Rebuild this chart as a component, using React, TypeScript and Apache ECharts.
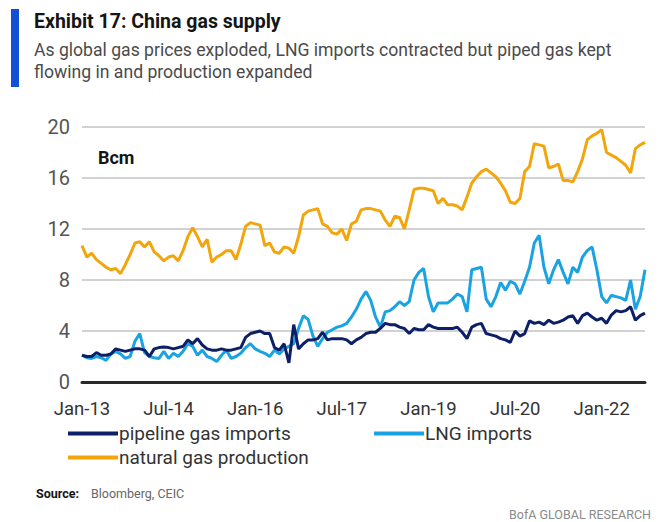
import React, { useEffect, useRef } from "react";
import * as echarts from "echarts";

const MONTH_NAMES = ["Jan", "Feb", "Mar", "Apr", "May", "Jun", "Jul", "Aug", "Sep", "Oct", "Nov", "Dec"];

const pipelineImports = [
  2.1, 2.0, 2.0, 2.3, 2.1, 2.1, 2.2, 2.6, 2.5, 2.4, 2.5, 2.6,
  2.6, 2.5, 2.0, 2.6, 2.7, 2.75, 2.7, 2.6, 2.7, 2.8, 3.3, 3.0,
  3.4, 2.9, 2.6, 2.5, 2.5, 2.6, 2.5, 2.5, 2.6, 2.7, 3.5, 3.8,
  3.9, 4.0, 3.8, 3.8, 2.7, 2.5, 3.0, 1.5, 4.5, 2.6, 3.0, 3.3,
  3.3, 3.4, 3.9, 3.3, 3.4, 3.4, 3.4, 3.3, 3.0, 3.3, 3.5, 3.8,
  3.9, 3.9, 4.2, 4.6, 4.5, 4.5, 4.3, 4.2, 3.8, 4.2, 4.1, 4.1,
  4.5, 4.3, 4.2, 4.2, 4.2, 4.2, 4.3, 3.9, 3.4, 4.3, 4.5, 4.6,
  3.8, 3.7, 3.6, 3.4, 3.3, 3.1, 4.0, 3.6, 3.8, 4.8, 4.6, 4.7,
  4.5, 4.85, 4.6, 4.7, 4.85, 5.1, 5.2, 4.6, 5.2, 5.4, 5.1, 4.85,
  5.0, 4.6, 5.25, 5.6, 5.5, 5.6, 5.9, 4.85, 5.2, 5.4,
];

const lngImports = [
  2.1, 1.9, 1.85, 2.0, 1.9, 1.7, 2.2, 2.4, 2.2, 1.85, 2.0, 3.2,
  3.8, 2.3, 2.0, 1.9, 1.85, 2.4, 1.85, 2.25, 2.0, 2.4, 3.0, 2.8,
  2.1, 2.5, 2.0, 1.85, 1.6, 2.1, 2.5, 1.85, 2.0, 2.25, 2.7, 3.0,
  2.6, 2.4, 2.25, 2.0, 2.5, 2.2, 2.6, 2.8, 3.0, 4.2, 5.2, 4.9,
  3.6, 2.8, 3.4, 3.9, 4.1, 4.3, 4.4, 4.6, 5.1, 5.7, 6.5, 7.1,
  6.4, 5.1, 4.3, 5.5, 5.6, 5.9, 6.3, 6.0, 6.3, 8.0, 8.6, 8.9,
  6.7, 5.5, 6.2, 6.2, 6.2, 6.5, 6.9, 6.7, 5.5, 8.8, 8.9, 9.0,
  6.5, 5.9, 6.7, 7.8, 7.2, 7.9, 7.7, 6.9, 7.9, 9.0, 10.9, 11.5,
  9.0, 7.7, 8.8, 9.6, 8.6, 7.7, 9.0, 8.6, 9.8, 10.3, 10.6, 8.8,
  6.7, 6.2, 6.8, 6.7, 6.6, 6.4, 8.0, 5.7, 6.7, 8.8,
];

const gasProduction = [
  10.7, 9.8, 10.1, 9.6, 9.3, 9.0, 8.8, 8.9, 8.5, 9.2, 10.0, 10.9,
  11.0, 10.6, 11.0, 10.2, 9.9, 9.5, 9.8, 9.9, 9.5, 10.3, 11.4, 12.1,
  11.4, 10.6, 11.2, 9.4, 9.8, 10.0, 10.3, 10.3, 9.6, 10.8, 12.2, 12.5,
  12.4, 12.3, 10.7, 10.9, 10.2, 10.1, 10.6, 10.5, 10.1, 11.4, 13.1, 13.4,
  13.5, 13.6, 12.4, 12.2, 11.7, 11.6, 12.0, 11.1, 12.4, 12.6, 13.5, 13.6,
  13.6, 13.5, 13.4, 12.7, 12.2, 13.0, 12.9, 12.0, 13.5, 15.1, 15.2, 15.2,
  15.1, 15.0, 14.0, 14.4, 13.9, 13.9, 13.8, 13.5, 14.5, 15.6, 16.1, 16.5,
  16.7, 16.4, 16.1, 15.6, 15.0, 14.1, 14.0, 14.4, 16.5, 16.9, 18.7, 18.6,
  18.5, 16.8, 16.9, 17.1, 15.8, 15.8, 15.7, 16.5, 17.5, 19.0, 19.3, 19.5,
  19.8, 18.0, 17.8, 17.6, 17.3, 17.0, 16.4, 18.3, 18.6, 18.8,
];

const seriesNames = ["pipeline gas imports", "LNG imports", "natural gas production"];
const seriesColors = ["#0d1f66", "#1aa3e3", "#f2a60c"];
const yTicks = [0, 4, 8, 12, 16, 20];

const categories: string[] = [];
for (let i = 0; i < pipelineImports.length; i++) {
  const m = i % 12;
  const y = 13 + Math.floor(i / 12);
  categories.push(`${MONTH_NAMES[m]}-${y}`);
}

const FONT = "Roboto, 'Liberation Sans', sans-serif";

export default function App() {
  const ref = useRef<HTMLDivElement>(null);
  useEffect(() => {
    document.body.style.margin = "0";
    if (!ref.current) return;
    const chart = echarts.init(ref.current, null, { renderer: "svg" });
    const values = [pipelineImports, lngImports, gasProduction];
    chart.setOption({
      animation: false,
      backgroundColor: "#ffffff",
      textStyle: { fontFamily: FONT },
      grid: { left: 82, right: 19, top: 127, bottom: 140, containLabel: false },
      xAxis: {
        type: "category",
        data: categories,
        boundaryGap: false,
        axisLine: { lineStyle: { color: "#2a2a2a", width: 3 } },
        axisTick: { show: false },
        axisLabel: { interval: 17, color: "#333", fontSize: 18.5, margin: 17, fontFamily: FONT },
        splitLine: { show: false },
      },
      yAxis: {
        type: "value",
        min: yTicks[0],
        max: yTicks[yTicks.length - 1],
        interval: 4,
        axisLine: { show: false },
        axisTick: { show: false },
        axisLabel: { color: "#555", fontSize: 20, margin: 12, fontFamily: FONT },
        splitLine: { lineStyle: { color: "#d2d2d2", width: 2 } },
      },
      legend: [
        { data: [seriesNames[0]], left: 68, top: 424 },
        { data: [seriesNames[1]], left: 374, top: 424 },
        { data: [seriesNames[2]], left: 68, top: 448 },
      ].map((l) => ({
        ...l,
        icon: "rect",
        itemWidth: 50,
        itemHeight: 4,
        itemGap: 0,
        textStyle: { fontSize: 19, color: "#333", fontFamily: FONT, padding: [0, 0, 0, -4] },
        padding: 0,
      })),
      series: values.map((v, i) => ({
        name: seriesNames[i],
        type: "line",
        data: v,
        showSymbol: false,
        symbol: "none",
        lineStyle: { color: seriesColors[i], width: 3 },
        itemStyle: { color: seriesColors[i] },
        z: i === 0 ? 4 : i === 1 ? 3 : 2,
      })),
      graphic: [
        { type: "rect", shape: { x: 11, y: 9, width: 8, height: 78 }, style: { fill: "#1050d6" } },
        {
          type: "text", x: 34, y: 21,
          style: { text: "Exhibit 17: China gas supply", font: `bold 19.5px ${FONT}`, fill: "#151515", textVerticalAlign: "middle" },
        },
        {
          type: "text", x: 34, y: 50,
          style: { text: "As global gas prices exploded, LNG imports contracted but piped gas kept", font: `17.6px ${FONT}`, fill: "#4a4a4a", textVerticalAlign: "middle" },
        },
        {
          type: "text", x: 34, y: 72,
          style: { text: "flowing in and production expanded", font: `17.6px ${FONT}`, fill: "#4a4a4a", textVerticalAlign: "middle" },
        },
        {
          type: "text", x: 98, y: 157,
          style: { text: "Bcm", font: `bold 18px ${FONT}`, fill: "#151515", textVerticalAlign: "middle" },
        },
        {
          type: "text", x: 36, y: 493,
          style: { text: "Source:", font: `bold 12.5px ${FONT}`, fill: "#151515", textVerticalAlign: "middle" },
        },
        {
          type: "text", x: 91, y: 493,
          style: { text: "Bloomberg, CEIC", font: `12.5px ${FONT}`, fill: "#666", textVerticalAlign: "middle" },
        },
        {
          type: "text", x: 651, y: 514,
          style: { text: "BofA GLOBAL RESEARCH", font: `12.5px ${FONT}`, fill: "#8a8a8a", textAlign: "right", textVerticalAlign: "middle" },
        },
      ],
    });
    return () => chart.dispose();
  }, []);
  return <div ref={ref} style={{ width: 664, height: 522 }} />;
}
